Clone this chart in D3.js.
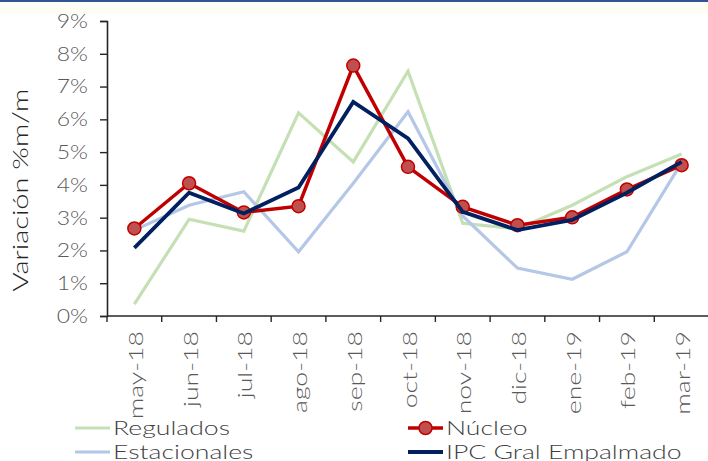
<!DOCTYPE html>
<html>
<head>
<meta charset="utf-8">
<script src="https://cdn.jsdelivr.net/npm/d3@7"></script>
<style>
  html, body { margin: 0; padding: 0; background: #ffffff; }
  svg { display: block; }
</style>
</head>
<body>
<script>
// Monthly inflation components, % m/m
const months = ["may-18","jun-18","jul-18","ago-18","sep-18","oct-18","nov-18","dic-18","ene-19","feb-19","mar-19"];
const regulados    = [0.36, 2.95, 2.59, 6.20, 4.70, 7.47, 2.83, 2.66, 3.38, 4.25, 4.94];
const estacionales = [2.62, 3.38, 3.79, 1.96, 4.05, 6.23, 3.05, 1.46, 1.12, 1.96, 4.68];
const nucleo       = [2.67, 4.05, 3.16, 3.35, 7.64, 4.55, 3.33, 2.77, 3.01, 3.86, 4.60];
const ipcGral      = [2.08, 3.76, 3.13, 3.92, 6.53, 5.42, 3.18, 2.62, 2.93, 3.76, 4.70];
const yTicks = [0, 1, 2, 3, 4, 5, 6, 7, 8, 9];

const W = 708, H = 461;
const svg = d3.select("body").append("svg").attr("width", W).attr("height", H);

// header band
svg.append("rect").attr("x", 0).attr("y", 0).attr("width", W).attr("height", 14).attr("fill", "#fdfdf6");
svg.append("rect").attr("x", 0).attr("y", 0).attr("width", W).attr("height", 2).attr("fill", "#2f5597");

const plotL = 107, plotR = 709, plotT = 21, plotB = 316;
const x = d3.scaleBand().domain(months).range([plotL, plotR]).padding(0);
const y = d3.scaleLinear().domain([0, 9]).range([plotB, plotT]);
const cx = m => x(m) + x.bandwidth() / 2;

const font = "'Lato', 'Open Sans', sans-serif";

// widen the light face to a broader geometric look
function stretch(sel, k) {
  sel.each(function () {
    const len = this.getComputedTextLength();
    d3.select(this).attr("textLength", len * k).attr("lengthAdjust", "spacingAndGlyphs");
  });
}

// y axis
const yAxis = svg.append("g").attr("transform", `translate(${plotL},0)`)
  .call(d3.axisLeft(y).tickValues(yTicks).tickFormat(d => d + "%").tickSize(7).tickPadding(12));
yAxis.select(".domain").attr("stroke", "#262626").attr("stroke-width", 1.6);
yAxis.selectAll(".tick line").attr("stroke", "#262626").attr("stroke-width", 1.4);
yAxis.selectAll(".tick text").attr("fill", "#595959").style("font-family", font)
  .style("font-size", "20px").style("font-weight", 300).call(stretch, 1.15);

// x axis with ticks at band boundaries
const xAxis = svg.append("g").attr("transform", `translate(0,${plotB})`);
xAxis.append("line").attr("x1", plotL).attr("x2", plotR).attr("stroke", "#262626").attr("stroke-width", 1.6);
const bounds = months.map(m => x(m)).concat([x(months[months.length - 1]) + x.bandwidth()]);
xAxis.selectAll("line.tk").data(bounds).join("line").attr("class", "tk")
  .attr("x1", d => d).attr("x2", d => d).attr("y1", 0).attr("y2", 6)
  .attr("stroke", "#262626").attr("stroke-width", 1.4);
xAxis.selectAll("text").data(months).join("text")
  .attr("transform", d => `translate(${cx(d) + 8.5},15) rotate(-90)`)
  .attr("text-anchor", "end")
  .attr("fill", "#595959").style("font-family", font).style("font-size", "20.5px").style("font-weight", 300)
  .text(d => d).call(stretch, 1.3);

// y axis title
svg.append("text")
  .attr("transform", "translate(28,190) rotate(-90)")
  .attr("text-anchor", "middle")
  .attr("fill", "#262626").style("font-family", font).style("font-size", "21px").style("font-weight", 300)
  .text("Variación %m/m").call(stretch, 1.38);

const line = d3.line().x((d, i) => cx(months[i])).y(d => y(d));

const series = [
  { name: "Regulados", data: regulados, color: "#c5e0b4", width: 3.2 },
  { name: "Estacionales", data: estacionales, color: "#b4c7e7", width: 3.2 },
  { name: "Núcleo", data: nucleo, color: "#c00000", width: 3.5, marker: true },
  { name: "IPC Gral Empalmado", data: ipcGral, color: "#002060", width: 3.8 }
];

series.forEach(s => {
  svg.append("path").datum(s.data).attr("d", line)
    .attr("fill", "none").attr("stroke", s.color).attr("stroke-width", s.width)
    .attr("stroke-linejoin", "miter");
  if (s.marker) {
    svg.selectAll(null).data(s.data).join("circle")
      .attr("cx", (d, i) => cx(months[i])).attr("cy", d => y(d)).attr("r", 6.5)
      .attr("fill", "#c0504d").attr("stroke", "#c00000").attr("stroke-width", 1.5);
  }
});

// legend
const legend = [
  { s: series[0], lx: 75, ly: 428 },
  { s: series[2], lx: 408, ly: 428 },
  { s: series[1], lx: 75, ly: 452 },
  { s: series[3], lx: 408, ly: 452 }
];
legend.forEach(({ s, lx, ly }) => {
  svg.append("line").attr("x1", lx).attr("x2", lx + 35).attr("y1", ly).attr("y2", ly)
    .attr("stroke", s.color).attr("stroke-width", s.width);
  if (s.marker) {
    svg.append("circle").attr("cx", lx + 17.5).attr("cy", ly).attr("r", 6.5)
      .attr("fill", "#c0504d").attr("stroke", "#c00000").attr("stroke-width", 1.5);
  }
  svg.append("text").attr("x", lx + 38).attr("y", ly + 7)
    .attr("fill", "#404040").style("font-family", font).style("font-size", "20px").style("font-weight", 300)
    .text(s.name).call(stretch, 1.33);
});
</script>
</body>
</html>
